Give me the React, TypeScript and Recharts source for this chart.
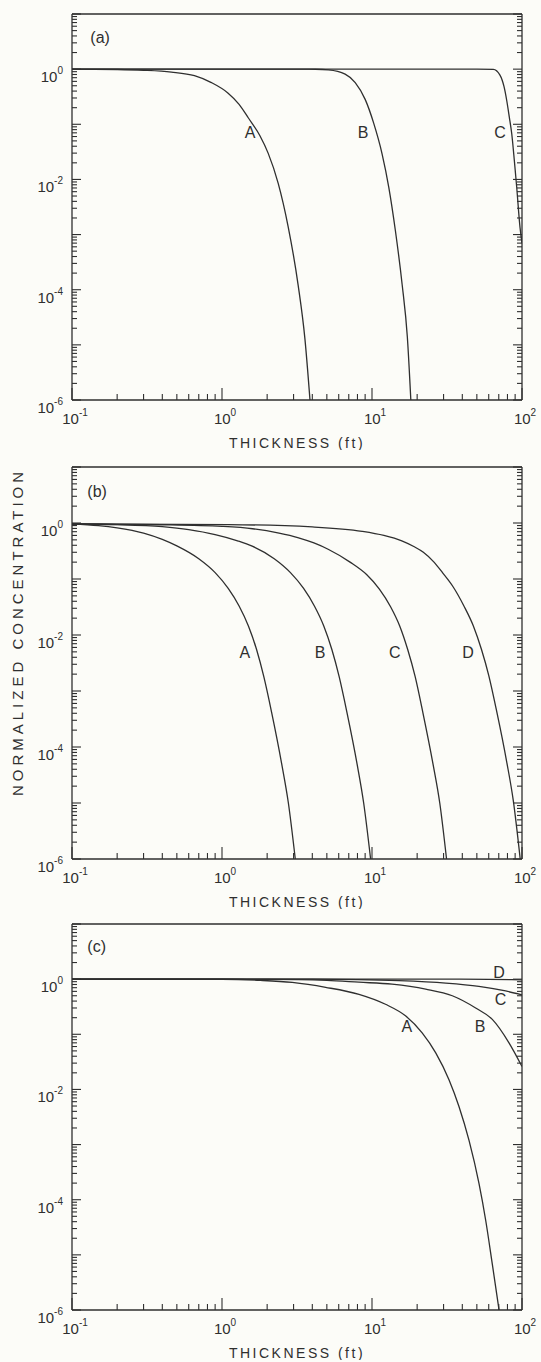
import React from "react";
import { ComposedChart, Line, XAxis, YAxis, Label, ReferenceDot } from "recharts";

const INK = "#2f2f2f";
const FONT = "'Liberation Sans', Arial, sans-serif";

// log axes: decades plus the 2..9 minor steps
const xDecades = [0.1, 1, 10];
const yDecades = [1e-6, 1e-5, 1e-4, 1e-3, 1e-2, 1e-1, 1];
const minorSteps = [1, 2, 3, 4, 5, 6, 7, 8, 9];
const xTicks = [...xDecades.flatMap((d) => minorSteps.map((m) => +(d * m).toPrecision(3))), 100];
const yTicks = [...yDecades.flatMap((d) => minorSteps.map((m) => +(d * m).toPrecision(3))), 10];
const yLabelExps = [0, -2, -4, -6];

// panel (a) curves: [thickness ft, normalized concentration]
const aCurveA: [number, number][] = [
  [0.1, 1], [0.2, 0.985], [0.3, 0.955], [0.46, 0.885], [0.655, 0.76], [0.85, 0.57], [1.094, 0.37],
  [1.3, 0.23], [1.5, 0.13], [1.79, 0.062], [2.03, 0.03], [2.37, 0.0085], [2.76, 0.0014],
  [3.22, 1.2e-4], [3.57, 1.3e-5], [3.86, 1e-6],
];
const aCurveB: [number, number][] = [
  [0.1, 1], [1, 1], [3, 1], [4.2, 0.995], [5.12, 0.97], [6.62, 0.81], [7.73, 0.57], [9.02, 0.28],
  [10.26, 0.105], [11.66, 0.0295], [12.94, 0.0072], [14.33, 0.00116], [15.89, 1.23e-4],
  [17.2, 1.4e-5], [18.15, 1e-6],
];
const aCurveC: [number, number][] = [
  [0.1, 1], [10, 1], [50, 1], [64.4, 0.99], [71.3, 0.78], [75.9, 0.48], [79.1, 0.27], [82.3, 0.135],
  [85.4, 0.068], [88.9, 0.022], [92.2, 0.0072], [97, 0.00135], [100, 0.0007],
];

// panel (b) curves
const bCurveA: [number, number][] = [
  [0.1, 0.96], [0.15, 0.9], [0.2, 0.82], [0.3, 0.66], [0.4, 0.51], [0.5, 0.39], [0.7, 0.23],
  [0.9, 0.13], [1.1, 0.068], [1.3, 0.033], [1.5, 0.0145], [1.7, 0.0055], [1.9, 0.0018],
  [2.14, 4.2e-4], [2.5, 5e-5], [2.77, 1e-5], [3.08, 1e-6],
];
const bCurveB: [number, number][] = [
  [0.1, 0.96], [0.2, 0.935], [0.4, 0.86], [0.6, 0.76], [0.9, 0.62], [1.27, 0.48], [1.59, 0.385],
  [2.23, 0.23], [2.86, 0.13], [3.5, 0.068], [4.13, 0.033], [4.77, 0.0145], [5.4, 0.0055],
  [6.04, 0.0018], [6.8, 4.2e-4], [7.95, 5e-5], [8.8, 1e-5], [9.79, 1e-6],
];
const bCurveC: [number, number][] = [
  [0.1, 0.96], [0.4, 0.93], [1, 0.87], [1.6, 0.79], [2.4, 0.66], [3.2, 0.55], [4.1, 0.44],
  [5.1, 0.34], [7.14, 0.2], [9.2, 0.12], [11.2, 0.066], [13.3, 0.032], [15.3, 0.0145],
  [17.3, 0.0055], [19.4, 0.0018], [21.8, 4.2e-4], [25.5, 5e-5], [28.3, 1e-5], [31.4, 1e-6],
];
const bCurveD: [number, number][] = [
  [0.1, 0.96], [1.1, 0.935], [4, 0.85], [8.6, 0.71], [12, 0.6], [15.8, 0.48], [19, 0.38],
  [22, 0.3], [25.9, 0.2], [29.5, 0.13], [34.8, 0.072], [41, 0.033], [47.4, 0.0145], [53.7, 0.0055],
  [60, 0.0019], [67.6, 4.5e-4], [79, 5.5e-5], [87.5, 1.1e-5], [97.3, 1e-6],
];

// panel (c) curves
const cCurveA: [number, number][] = [
  [0.1, 1], [1, 0.995], [1.8, 0.95], [2.94, 0.87], [4.91, 0.71], [8.19, 0.53], [12.3, 0.35],
  [16.8, 0.214], [21.6, 0.106], [26.6, 0.046], [32.6, 0.015], [38, 0.0049], [44.3, 0.0012],
  [51.7, 1.95e-4], [57.3, 4.2e-5], [63.4, 6.8e-6], [70.3, 1e-6],
];
const cCurveB: [number, number][] = [
  [0.1, 1], [2, 0.99], [5, 0.95], [8.19, 0.88], [13.6, 0.81], [22.8, 0.66], [34.3, 0.5],
  [49.1, 0.3], [63.4, 0.186], [81.9, 0.07], [100, 0.026],
];
const cCurveC: [number, number][] = [
  [0.1, 1], [3, 1], [8, 0.98], [15, 0.94], [31, 0.85], [51.6, 0.74], [77.8, 0.61], [100, 0.52],
];
const cCurveD: [number, number][] = [[0.1, 1], [30, 1], [60, 0.99], [100, 0.97]];

// curve letters and panel tags, in data coordinates
const aLabels = [
  { text: "(a)", x: 0.154, y: 3.8 },
  { text: "A", x: 1.54, y: 0.072 },
  { text: "B", x: 8.71, y: 0.072 },
  { text: "C", x: 71.3, y: 0.072 },
];
const bLabels = [
  { text: "(b)", x: 0.147, y: 3.7 },
  { text: "A", x: 1.42, y: 0.005 },
  { text: "B", x: 4.5, y: 0.005 },
  { text: "C", x: 14.2, y: 0.005 },
  { text: "D", x: 43.7, y: 0.005 },
];
const cLabels = [
  { text: "(c)", x: 0.146, y: 4.0 },
  { text: "D", x: 70.3, y: 1.34 },
  { text: "C", x: 71.8, y: 0.43 },
  { text: "A", x: 17.1, y: 0.14 },
  { text: "B", x: 52.5, y: 0.14 },
];

const toRows = (pts: [number, number][]) => pts.map(([x, y]) => ({ x, y }));

const isDecade = (v: number) => Math.abs(Math.log10(v) - Math.round(Math.log10(v))) < 1e-6;

function Pow({ x, y, exp, anchor }: { x: number; y: number; exp: number; anchor: "end" | "middle" }) {
  return (
    <text x={x} y={y} textAnchor={anchor} fontFamily={FONT} fontSize={15} fill={INK}>
      10
      <tspan dy={-8} fontSize={10}>{String(exp)}</tspan>
    </text>
  );
}

function BottomTick(props: any) {
  const { x, y, payload } = props;
  const major = isDecade(payload.value);
  const e = Math.round(Math.log10(payload.value));
  return (
    <g>
      <line x1={x} x2={x} y1={y} y2={y - (major ? 12 : 6)} stroke={INK} strokeWidth={1.1} />
      {major && <Pow x={x + 3} y={y + 24} exp={e} anchor="middle" />}
    </g>
  );
}

function TopTick(props: any) {
  const { x, y, payload } = props;
  const major = isDecade(payload.value);
  return <line x1={x} x2={x} y1={y} y2={y + (major ? 11 : 5)} stroke={INK} strokeWidth={1.1} />;
}

function LeftTick(props: any) {
  const { x, y, payload } = props;
  const major = isDecade(payload.value);
  const e = Math.round(Math.log10(payload.value));
  return (
    <g>
      <line x1={x} x2={x + (major ? 9 : 5)} y1={y} y2={y} stroke={INK} strokeWidth={1.1} />
      {major && yLabelExps.includes(e) && <Pow x={x - 9} y={y + 13} exp={e} anchor="end" />}
    </g>
  );
}

function RightTick(props: any) {
  const { x, y, payload } = props;
  const major = isDecade(payload.value);
  return <line x1={x} x2={x - (major ? 9 : 5)} y1={y} y2={y} stroke={INK} strokeWidth={1.1} />;
}

const yTitle = () => (
  <text
    transform="translate(17,170) rotate(-90)"
    textAnchor="middle"
    dominantBaseline="central"
    fontFamily={FONT}
    fontSize={15}
    fill={INK}
    style={{ letterSpacing: 4 }}
  >
    NORMALIZED CONCENTRATION
  </text>
);

interface PanelProps {
  top: number;
  plotH: number;
  curves: [number, number][][];
  labels: { text: string; x: number; y: number }[];
  yTitle?: boolean;
}

function Panel({ top, plotH, curves, labels, yTitle: withTitle }: PanelProps) {
  const axisLine = { stroke: INK, strokeWidth: 1.3 };
  return (
    <div style={{ position: "absolute", left: 0, top: top - 5 }}>
      <ComposedChart width={541} height={plotH + 55} margin={{ top: 4, right: 9, bottom: 0, left: 12 }}>
        <XAxis
          type="number"
          dataKey="x"
          scale="log"
          domain={[0.1, 100]}
          allowDataOverflow
          ticks={xTicks}
          interval={0}
          tickSize={0}
          tickMargin={0}
          tickLine={false}
          tick={BottomTick}
          axisLine={axisLine}
          height={50}
        >
          <Label
            value="THICKNESS (ft)"
            position="insideBottom"
            offset={2}
            fontFamily={FONT}
            fontSize={14}
            fill={INK}
            style={{ letterSpacing: 2.5 }}
          />
        </XAxis>
        <XAxis
          xAxisId="top"
          orientation="top"
          type="number"
          scale="log"
          domain={[0.1, 100]}
          allowDataOverflow
          ticks={xTicks}
          interval={0}
          tickSize={0}
          tickMargin={0}
          tickLine={false}
          tick={TopTick}
          axisLine={axisLine}
          height={1}
        />
        <YAxis
          type="number"
          scale="log"
          domain={[1e-6, 10]}
          allowDataOverflow
          ticks={yTicks}
          interval={0}
          tickSize={0}
          tickMargin={0}
          tickLine={false}
          tick={LeftTick}
          axisLine={axisLine}
          width={60}
        >
          {withTitle && <Label content={yTitle} />}
        </YAxis>
        <YAxis
          yAxisId="right"
          orientation="right"
          type="number"
          scale="log"
          domain={[1e-6, 10]}
          allowDataOverflow
          ticks={yTicks}
          interval={0}
          tickSize={0}
          tickMargin={0}
          tickLine={false}
          tick={RightTick}
          axisLine={axisLine}
          width={10}
        />
        {curves.map((c, i) => (
          <Line
            key={i}
            data={toRows(c)}
            dataKey="y"
            type="monotone"
            stroke={INK}
            strokeWidth={1.3}
            dot={false}
            activeDot={false}
            isAnimationActive={false}
          />
        ))}
        {labels.map((l) => (
          <ReferenceDot
            key={l.text}
            x={l.x}
            y={l.y}
            r={0}
            stroke="none"
            fill="none"
            label={{ value: l.text, position: "center", fontSize: 16, fill: INK, fontFamily: FONT }}
          />
        ))}
      </ComposedChart>
    </div>
  );
}

export default function App() {
  return (
    <div
      style={{
        position: "absolute",
        left: 0,
        top: 0,
        width: 541,
        height: 1362,
        background: "#fcfcf8",
        overflow: "hidden",
      }}
    >
      <Panel top={14} plotH={386} curves={[aCurveA, aCurveB, aCurveC]} labels={aLabels} />
      <Panel top={467} plotH={392} curves={[bCurveA, bCurveB, bCurveC, bCurveD]} labels={bLabels} yTitle />
      <Panel top={924} plotH={386} curves={[cCurveA, cCurveB, cCurveC, cCurveD]} labels={cLabels} />
    </div>
  );
}
